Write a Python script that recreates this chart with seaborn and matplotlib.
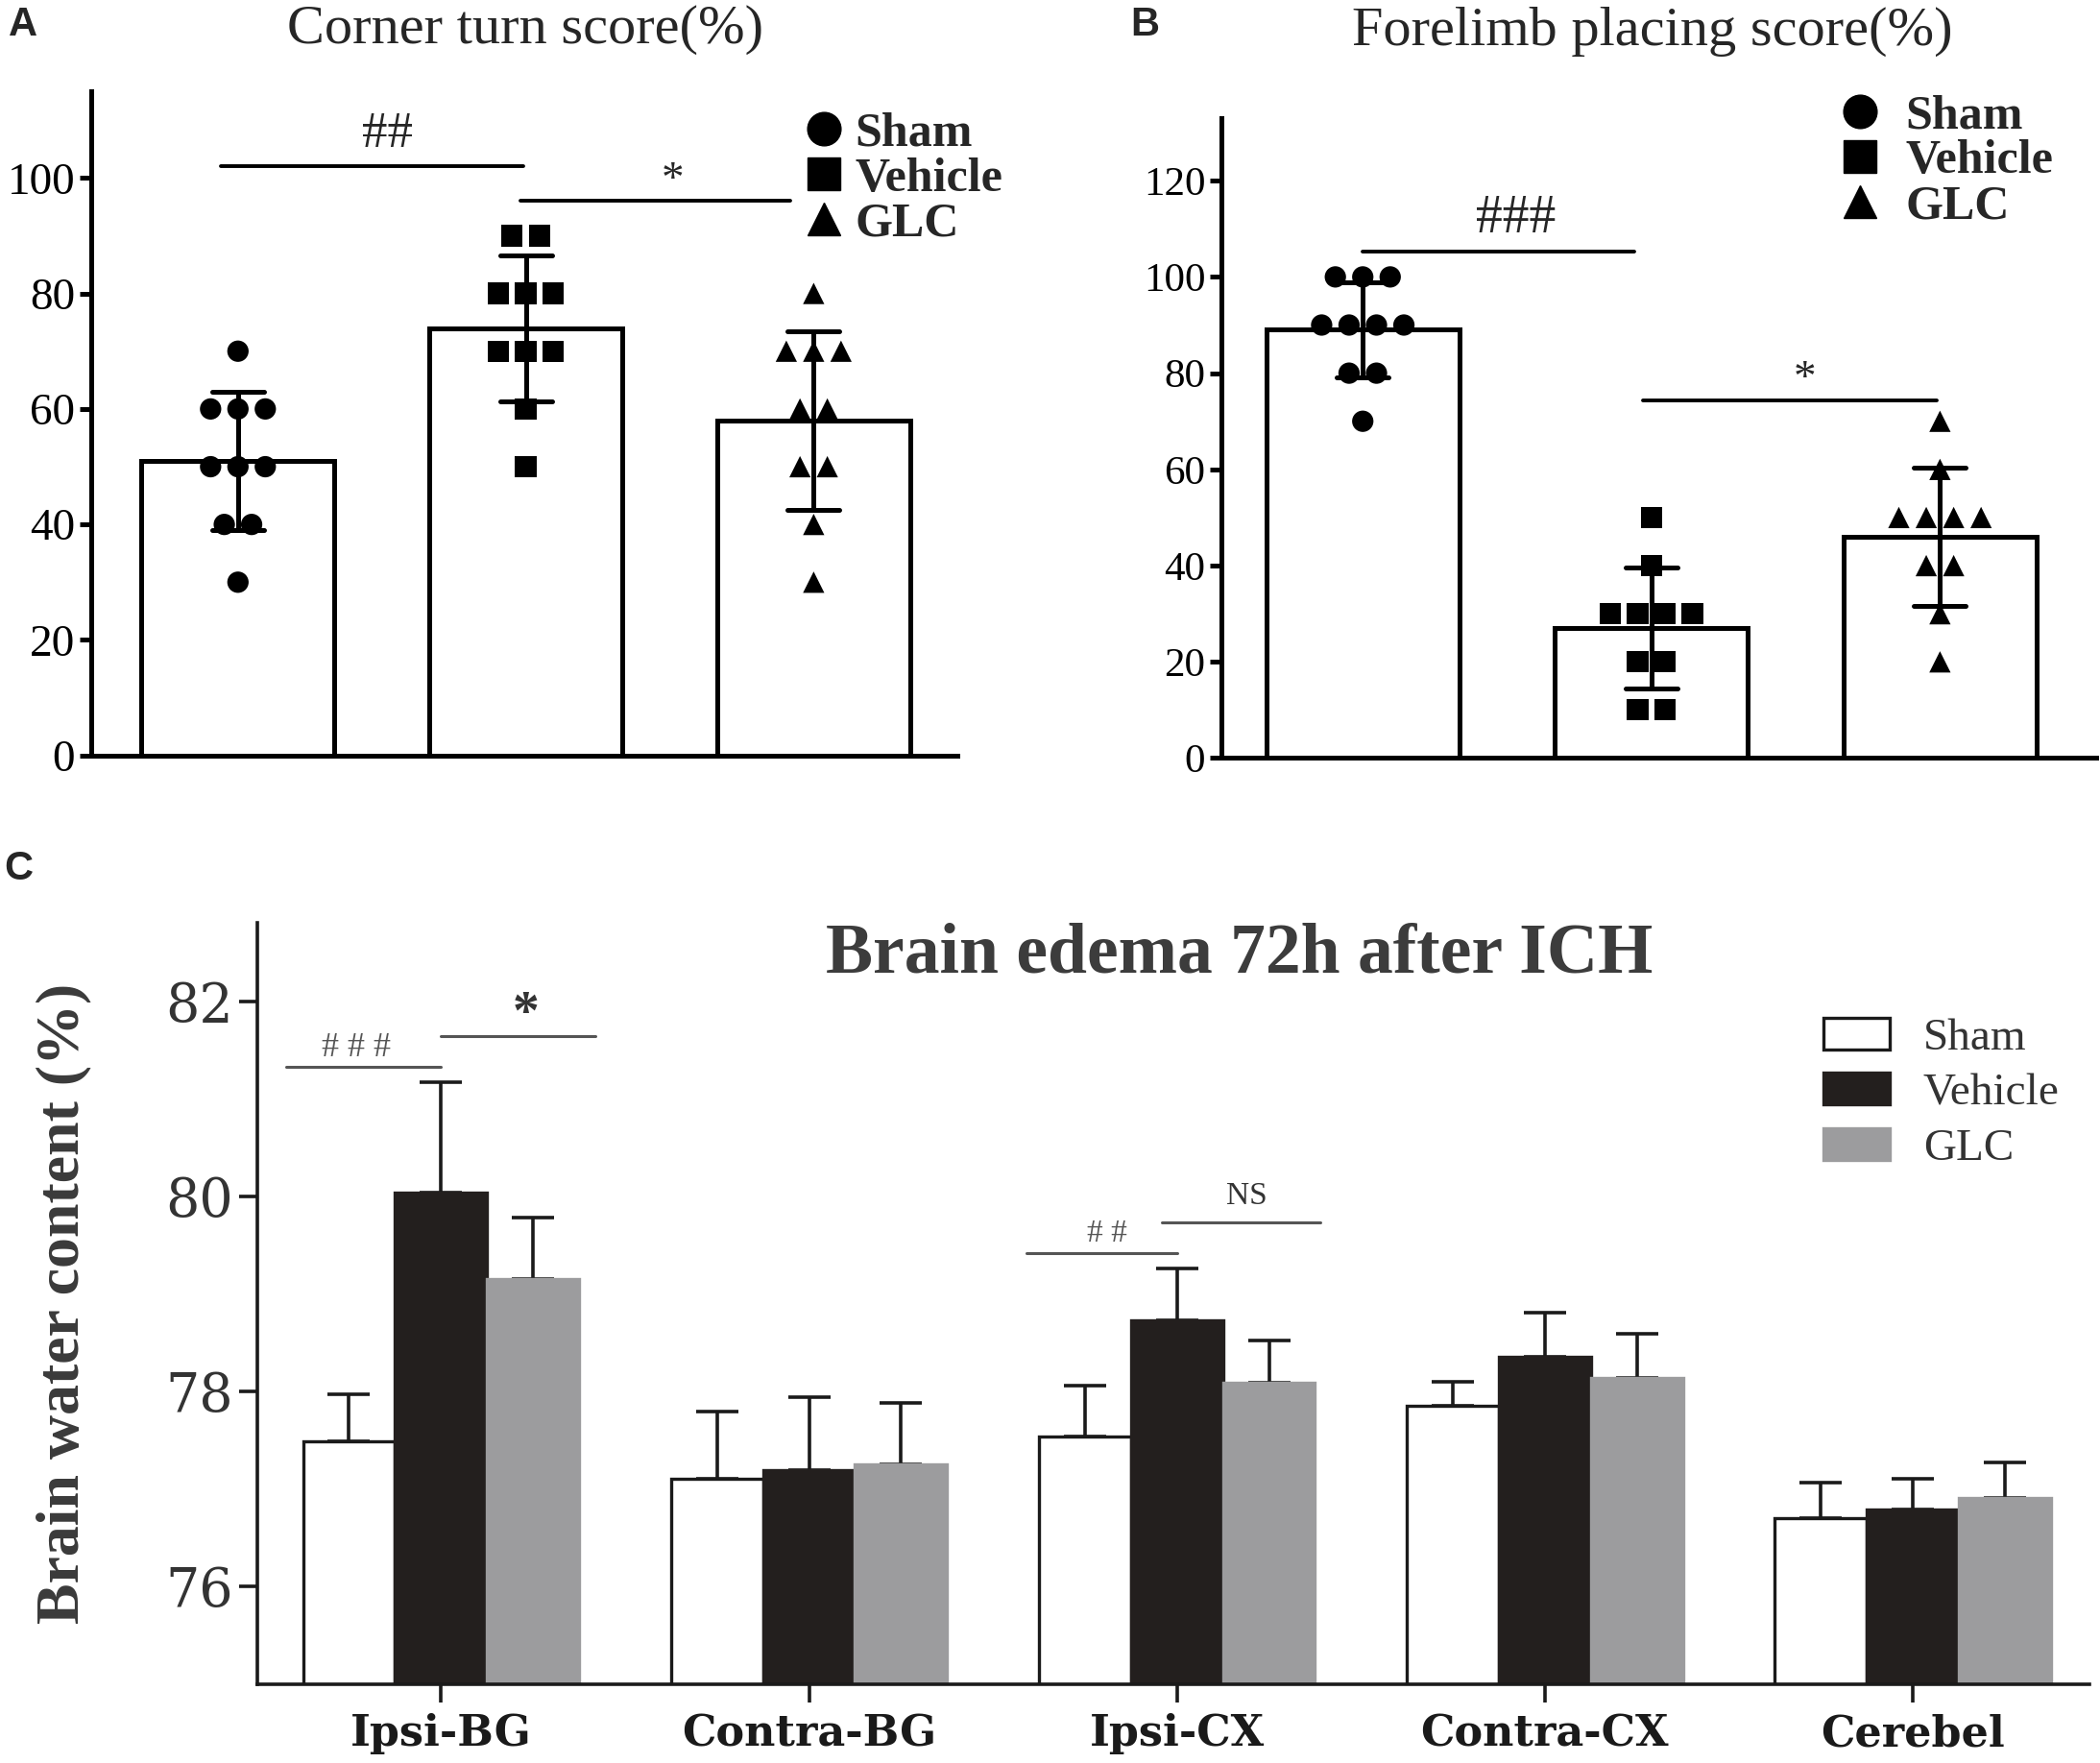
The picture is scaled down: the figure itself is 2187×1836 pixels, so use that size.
import numpy as np
import pandas as pd
import matplotlib
matplotlib.use("Agg")
import matplotlib.pyplot as plt
import seaborn as sns
from matplotlib.lines import Line2D
from matplotlib.patches import Patch

groups = ["Sham", "Vehicle", "GLC"]
markers = ["o", "s", "^"]

# A - corner turn score (%), one value per rat
corner_sham = [70, 60, 60, 60, 50, 50, 50, 40, 40, 30]
corner_vehicle = [90, 90, 80, 80, 80, 70, 70, 70, 60, 50]
corner_glc = [80, 70, 70, 70, 60, 60, 50, 50, 40, 30]

# B - forelimb placing score (%)
forelimb_sham = [100, 100, 100, 90, 90, 90, 90, 80, 80, 70]
forelimb_vehicle = [50, 40, 30, 30, 30, 30, 20, 20, 10, 10]
forelimb_glc = [70, 60, 50, 50, 50, 50, 40, 40, 30, 20]

# C - brain water content (%), mean and upper error
regions = ["Ipsi-BG", "Contra-BG", "Ipsi-CX", "Contra-CX", "Cerebel"]
water_sham = [77.49, 77.10, 77.54, 77.85, 76.70]
water_vehicle = [80.04, 77.19, 78.73, 78.35, 76.79]
water_glc = [79.15, 77.25, 78.09, 78.14, 76.91]
err_sham = [0.48, 0.69, 0.52, 0.25, 0.36]
err_vehicle = [1.13, 0.75, 0.53, 0.46, 0.31]
err_glc = [0.63, 0.63, 0.43, 0.45, 0.36]
c_colors = ["white", "#231f1e", "#9c9c9e"]

sns.set_theme(style="ticks")
plt.rcParams["font.family"] = ["Liberation Serif", "DejaVu Serif"]

fig = plt.figure(figsize=(21.87, 18.36), dpi=100)
ax_a = fig.add_axes([0.0434, 0.5715, 0.4126, 0.3767])
ax_b = fig.add_axes([0.5816, 0.570, 0.4164, 0.363])
ax_c = fig.add_axes([0.1224, 0.0449, 0.8726, 0.4315])


def score_panel(ax, values, ylim, yticks, xlim, tick_fs):
    df = pd.DataFrame({"group": np.repeat(groups, [len(v) for v in values]),
                       "score": np.concatenate(values)})
    sns.barplot(data=df, x="group", y="score", order=groups, errorbar="sd",
                capsize=0.18, width=0.67, color="white", saturation=1,
                edgecolor="black", linewidth=3.6,
                err_kws={"color": "black", "linewidth": 3.6, "zorder": 4}, ax=ax)
    # spread equal scores sideways (prism style scatter)
    g = df.groupby(["group", "score"], sort=False)["score"]
    rank = g.cumcount()
    n = g.transform("size")
    df["pos"] = df["group"].map({k: i for i, k in enumerate(groups)}) + (rank - (n - 1) / 2) * 0.095
    sns.scatterplot(data=df, x="pos", y="score", style="group", style_order=groups,
                    markers=dict(zip(groups, markers)), color="black", s=16 ** 2,
                    edgecolor="none", legend=False, ax=ax, zorder=3)
    ax.set_xlim(*xlim)
    ax.set_ylim(*ylim)
    ax.set_yticks(yticks)
    ax.set_xlabel("")
    ax.set_ylabel("")
    sns.despine(ax=ax)
    for s in ["left", "bottom"]:
        ax.spines[s].set_linewidth(3.6)
        ax.spines[s].set_color("black")
    ax.tick_params(axis="x", length=0, labelbottom=False)
    ax.tick_params(axis="y", length=9, width=3.6, labelsize=tick_fs, pad=3, colors="black")
    handles = [Line2D([], [], marker=m, color="black", linestyle="", markersize=25) for m in markers]
    return handles


# A
h = score_panel(ax_a, [corner_sham, corner_vehicle, corner_glc], (0, 115),
                [0, 20, 40, 60, 80, 100], (-0.51, 2.5), 34)
ax_a.legend(h, groups, loc="upper left", bbox_to_anchor=(0.79, 1.005), frameon=False,
            prop={"weight": "bold", "size": 36}, handletextpad=0.15, labelspacing=0.02,
            borderpad=0, handlelength=1.0)
fig.text(0.25, 0.983, "Corner turn score(%)", ha="center", va="center", fontsize=42)
ax_a.plot([-0.06, 0.99], [102, 102], color="black", lw=2.8)
ax_a.text(0.52, 107.5, "##", ha="center", va="center", fontsize=38)
ax_a.plot([0.98, 1.92], [96, 96], color="black", lw=2.8)
ax_a.text(1.51, 99.5, "*", ha="center", va="center", fontsize=34)

# B
h = score_panel(ax_b, [forelimb_sham, forelimb_vehicle, forelimb_glc], (0, 133),
                [0, 20, 40, 60, 80, 100, 120], (-0.49, 2.54), 31)
ax_b.legend(h, groups, loc="upper left", bbox_to_anchor=(0.675, 1.075), frameon=False,
            prop={"weight": "bold", "size": 36}, handletextpad=0.45, labelspacing=0.02,
            borderpad=0, handlelength=1.0)
fig.text(0.787, 0.982, "Forelimb placing score(%)", ha="center", va="center", fontsize=42)
ax_b.plot([0, 0.94], [105.3, 105.3], color="black", lw=2.8)
ax_b.text(0.53, 112, "###", ha="center", va="center", fontsize=40)
ax_b.plot([0.97, 1.99], [74.4, 74.4], color="black", lw=2.8)
ax_b.text(1.53, 78.5, "*", ha="center", va="center", fontsize=34)

# C
df_c = pd.DataFrame({
    "region": np.tile(regions, 3),
    "group": np.repeat(groups, len(regions)),
    "water": np.concatenate([water_sham, water_vehicle, water_glc]),
    "err": np.concatenate([err_sham, err_vehicle, err_glc]),
})
sns.barplot(data=df_c, x="region", y="water", hue="group", order=regions,
            hue_order=groups, palette=c_colors, saturation=1, errorbar=None,
            width=0.75, legend=False, ax=ax_c, zorder=2)
for cont, grp, col in zip(ax_c.containers, groups, c_colors):
    xs = [b.get_x() + b.get_width() / 2 for b in cont]
    for b in cont:
        b.set_edgecolor("#1a1a1a" if grp == "Sham" else col)
        b.set_linewidth(2.4)
    sub = df_c[df_c["group"] == grp]
    ax_c.errorbar(xs, sub["water"], yerr=[np.zeros(len(sub)), sub["err"]], fmt="none",
                  ecolor="#1a1a1a", elinewidth=2.6, capsize=16, capthick=2.6, zorder=1)
ax_c.set_ylim(75.0, 82.8)
ax_c.set_xlim(-0.5, 4.48)
ax_c.set_yticks([76, 78, 80, 82])
sns.despine(ax=ax_c)
for s in ["left", "bottom"]:
    ax_c.spines[s].set_linewidth(2.6)
    ax_c.spines[s].set_color("#1a1a1a")
ax_c.tick_params(axis="y", length=14, width=2.6, colors="#1a1a1a", pad=4)
ax_c.tick_params(axis="x", length=14, width=2.6, colors="#1a1a1a", pad=8)
for lab in ax_c.get_yticklabels():
    lab.set_fontfamily("DejaVu Serif")
    lab.set_fontsize(40)
    lab.set_color("#333333")
for lab in ax_c.get_xticklabels():
    lab.set_fontfamily("DejaVu Serif")
    lab.set_fontweight("bold")
    lab.set_fontsize(32)
    lab.set_color("#1a1a1a")
ax_c.set_xlabel("")
ax_c.set_ylabel("Brain water content (%)", fontsize=46, fontweight="bold", color="#3a3a3a")
ax_c.yaxis.set_label_coords(-0.09, 0.5)
ax_c.text(0.536, 0.958, "Brain edema 72h after ICH", transform=ax_c.transAxes,
          ha="center", va="center", fontsize=53, fontweight="bold", color="#3c3c3c")
c_handles = [Patch(facecolor=c, edgecolor="#1a1a1a" if g == "Sham" else c, linewidth=2.4)
             for g, c in zip(groups, c_colors)]
ax_c.legend(c_handles, groups, loc="upper left", bbox_to_anchor=(0.8425, 0.905),
            frameon=False, fontsize=34, handlelength=1.45, handleheight=0.7,
            handletextpad=0.75, labelspacing=0.3, borderpad=0, labelcolor="#333333")
sig = "#555555"
ax_c.plot([-0.42, 0.0], [81.33, 81.33], color=sig, lw=2.2)
ax_c.text(-0.23, 81.52, "# # #", ha="center", va="center", fontsize=26, color=sig)
ax_c.plot([0.0, 0.42], [81.64, 81.64], color=sig, lw=2.2)
ax_c.text(0.23, 81.86, "*", ha="center", va="center", fontsize=40, fontweight="bold", color="#333333")
ax_c.plot([1.59, 2.0], [79.42, 79.42], color=sig, lw=2.2)
ax_c.text(1.81, 79.62, "# #", ha="center", va="center", fontsize=24, color=sig)
ax_c.plot([1.96, 2.39], [79.73, 79.73], color=sig, lw=2.2)
ax_c.text(2.19, 80.0, "NS", ha="center", va="center", fontsize=24, color="#333333")

# panel letters
for letter, x, y in [("A", 0.011, 0.986), ("B", 0.545, 0.986), ("C", 0.009, 0.507)]:
    fig.text(x, y, letter, fontsize=30, fontweight="bold", family="Liberation Sans",
             ha="center", va="center")

fig.savefig("out.png", dpi=100)
